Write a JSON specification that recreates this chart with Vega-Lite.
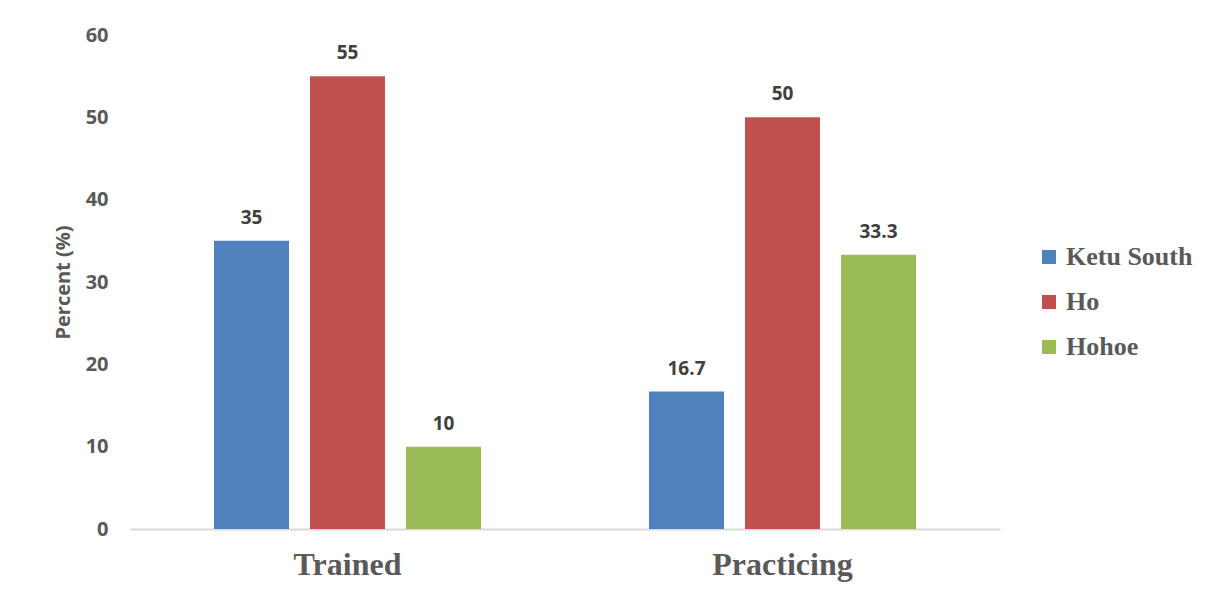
{
  "$schema": "https://vega.github.io/schema/vega-lite/v6.json",
  "width": 870,
  "height": 494,
  "autosize": {"type": "none"},
  "padding": {"left": 130, "top": 35, "right": 219, "bottom": 66},
  "background": "white",
  "config": {"view": {"stroke": null}},
  "data": {
    "values": [
      {"status": "Trained", "district": "Ketu South", "percent": 35, "label": "35"},
      {"status": "Trained", "district": "Ho", "percent": 55, "label": "55"},
      {"status": "Trained", "district": "Hohoe", "percent": 10, "label": "10"},
      {"status": "Practicing", "district": "Ketu South", "percent": 16.7, "label": "16.7"},
      {"status": "Practicing", "district": "Ho", "percent": 50, "label": "50"},
      {"status": "Practicing", "district": "Hohoe", "percent": 33.3, "label": "33.3"}
    ]
  },
  "encoding": {
    "x": {
      "field": "status", "type": "nominal", "sort": ["Trained", "Practicing"],
      "scale": {"paddingInner": 0, "paddingOuter": 0},
      "axis": {
        "title": null, "labelAngle": 0, "ticks": false,
        "domainColor": "#d9d9d9", "domainWidth": 2,
        "labelFont": "Liberation Serif", "labelFontWeight": "bold", "labelFontSize": 32,
        "labelColor": "#595959", "labelPadding": 20
      }
    },
    "xOffset": {
      "field": "district", "type": "nominal", "sort": ["Ketu South", "Ho", "Hohoe"],
      "scale": {"paddingInner": 0.219, "paddingOuter": 0.875}
    },
    "y": {
      "field": "percent", "type": "quantitative",
      "scale": {"domain": [0, 60], "nice": false},
      "axis": {
        "title": "Percent (%)", "values": [0, 10, 20, 30, 40, 50, 60],
        "grid": false, "domain": false, "ticks": false,
        "labelFont": "Open Sans", "labelFontWeight": "bold", "labelFontSize": 20,
        "labelColor": "#595959", "labelPadding": 22,
        "titleFont": "Open Sans", "titleFontWeight": "bold", "titleFontSize": 20,
        "titleColor": "#595959", "titlePadding": 12
      }
    }
  },
  "layer": [
    {
      "mark": {"type": "bar"},
      "encoding": {
        "color": {
          "field": "district", "type": "nominal", "sort": ["Ketu South", "Ho", "Hohoe"],
          "scale": {"domain": ["Ketu South", "Ho", "Hohoe"], "range": ["#4f81bd", "#c0504d", "#9bbb59"]},
          "legend": {
            "title": null, "orient": "none", "legendX": 906, "legendY": 209,
            "symbolType": "square", "symbolSize": 196, "symbolStrokeWidth": 0,
            "labelFont": "Liberation Serif", "labelFontWeight": "bold", "labelFontSize": 26,
            "labelColor": "#595959", "rowPadding": 19, "labelOffset": 4
          }
        }
      }
    },
    {
      "mark": {"type": "text", "baseline": "bottom", "dy": -13, "font": "Open Sans", "fontWeight": "bold", "fontSize": 19, "color": "#404040"},
      "encoding": {
        "text": {"field": "label", "type": "nominal"}
      }
    }
  ]
}
